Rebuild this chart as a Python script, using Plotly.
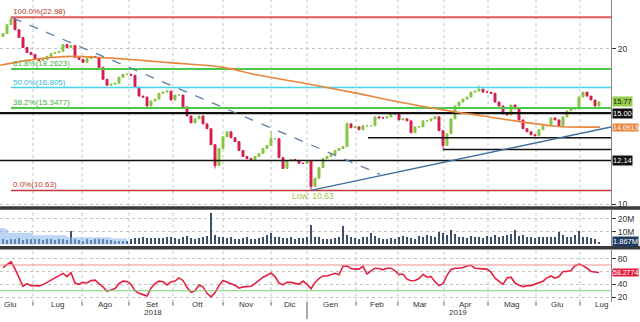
import math
import plotly.graph_objects as go

# ---------------- data ----------------
closes = [21.37,22.24,22.83,21.75,21.0,20.09,19.65,19.48,19.05,18.97,
          19.05,19.31,19.57,19.65,19.74,20.36,20.09,20.27,19.22,19.05,
          18.80,19.14,19.31,19.22,18.39,17.44,16.98,17.06,17.13,17.60,
          17.83,17.83,17.75,16.84,16.18,16.11,15.48,15.83,15.97,16.39,
          16.47,16.54,15.90,16.25,16.25,15.42,14.81,14.36,14.62,14.81,
          14.30,13.99,13.03,11.88,12.81,13.50,13.80,13.44,13.21,12.70,
          12.36,12.25,12.20,12.36,12.53,12.81,12.98,13.38,13.38,12.30,
          11.72,12.14,12.20,12.14,11.99,11.99,12.14,10.82,11.22,11.77,
          12.25,12.36,12.47,12.70,12.81,12.92,14.30,14.05,14.11,13.93,
          14.18,14.18,14.18,14.75,14.68,14.68,14.75,15.01,14.94,14.55,
          14.62,14.49,13.74,14.11,14.11,14.49,14.49,14.62,14.75,13.87,
          12.98,13.68,14.62,15.48,15.76,15.97,16.11,16.47,16.54,16.69,
          16.47,16.47,16.39,15.76,15.48,14.94,14.88,15.55,15.28,14.55,
          13.99,13.80,13.62,13.56,13.93,14.18,14.18,14.68,14.55,14.18,
          14.75,15.15,15.28,15.28,16.11,16.47,16.18,15.90,15.48,15.77]
first_open = 21.1
high_overrides = {2: 22.98, 67: 13.87, 119: 16.98, 86: 14.40}
low_overrides = {77: 10.63, 53: 11.72, 110: 12.75}

volumes = [4,3.5,4.5,4,5,3.5,4,4.5,3.8,4, 3.5,4.2,3.8,3.5,4,4.5,3.6,10.5,4,3.5,
           3,3.8,3.2,4,4.5,3.8,3.2,3.5,3,2.8, 2.5,3,
           4.5,5,4.8,5.5,5,4.6,5,5.2,4.8,5.5, 6,5,4.5,5.5,6.5,5,4.5,5,6,6.5,
           24,7.5,6,5.5,5,5.5,4.5,4,5,5.5, 4.5,4,5,5.5,7,9,6,5.5,5,5,
           5.5,4.5,5,5,5.5,15,6,5.5,
           4.5,4,4.5,5,5.5,14,7,6,5,4.5, 6,5.5,8.5,6.5,5,4.5,4,5,4.5,5.5,
           6.5,5.5,5,4.5,6.5,5.5,7,6.5,5.5,10, 9,7.5,11,8,6,5.5,5,6.5,5.5,6,
           5,6.5,5.5,7,6,6.5,7.5,8,11,6.5, 7,5.5,6,5,5.5,6,5.5,5.5,6,10,
           7.5,5.5,6,7.5,10.5,6,5.5,5,4.5,1.867]

vol_bg_idx = [-0.75, 0.5, 1.25, 7.5, 16, 27, 31]
vol_bg_val = [12.8, 11.5, 9.0, 7.2, 5.6, 4.5, 0]

rsi = [66,71,75,64,51,37,41,38,38,37.5, 39.5,43,47,50,54,57,52,58,42,40,
       43,42,46,46.5,41,36,29,31,33.5,41, 45,44.5,40,30,26,24,22,34,41,45,
       44,39,44,45,50,46,35,27.7,30,39, 36,26,20.5,27,38,46,43,41,38.5,34,
       36,36,37,41,46,51,54,57.5,52,42, 39,43,43,42,40,45,40,33,43,49,
       53,53,55.5,57,55,68,68.5,64.5,63.6,63.6, 68,56,61,65,64.6,62.5,65,65,61,55,
       56,48,45.5,46,49,55.5,51,52,44,38, 41,54,63,65,65,66,68.5,69.5,65,64,
       64,63.6,59,49.5,45,40,50,51,42,38.5, 36.5,38,38,40.5,43.5,44.8,50,53,49.5,52,
       60,60,61.5,69,71.3,69,65,60,59,58.2774]

ma_idx = [-0.75, 6, 12, 18, 24, 32, 38, 47, 55, 64, 74, 87, 99, 113, 120, 128, 137, 140, 149.25]
ma_val = [18.56,18.97,19.22,19.31,19.22,19.05,18.88,18.64,18.39,17.75,17.21,16.47,15.76,15.08,14.81,14.49,14.18,14.11,14.09]

fib_levels = [22.98, 18.2623, 16.805, 15.3477, 10.63]
fib_labels = ["100.0%(22.98)", "61.8%(18.2623)", "50.0%(16.805)", "38.2%(15.3477)", "0.0%(10.63)"]
fib_colors = ["#e05a5a", "#4cc84c", "#44d6e6", "#4cc84c", "#c43a3a"]
fib_text_colors = ["#b83a2a", "#3fae3f", "#2fc0d2", "#3fae3f", "#b83a2a"]
fib_widths = [2, 2, 1.5, 2, 1.5]
fib_start = 2

levels_black = [15.00, 12.14, 13.44, 12.75]
levels_black_start = [-0.75, -0.75, 91.25, 110]
levels_black_width = [2.2, 1.5, 1.5, 1.5]

down_trend_idx = [2.5, 94.25]
down_trend_val = [22.9, 11.42]
up_trend_idx = [77, 152]
up_trend_val = [10.63, 14.1]

month_labels = ["Giu", "Lug", "Ago", "Set", "Ott", "Nov", "Dic", "Gen", "Feb", "Mar", "Apr", "Mag", "Giu", "Lug"]
month_centers = [1.75, 13.5, 25.5, 37.25, 48.5, 60.75, 71.75, 81.75, 93.5, 104.25, 115.5, 127.25, 138.5, 149.5]
month_bounds = [7.5, 19.75, 31.5, 42.5, 55, 67, 76, 88.25, 98.75, 110.25, 121.25, 133.25, 144.25]
year_labels = ["2018", "2019"]
year_pos = [37.5, 113.75]
year_bound = 76

XMIN, XMAX = -0.75, 152
W, H = 640, 322
FONT = "Liberation Sans, Arial, sans-serif"

# ---------------- build ----------------
idx = list(range(len(closes)))
opens = [first_open] + closes[:-1]
highs = [max(o, c) for o, c in zip(opens, closes)]
lows = [min(o, c) for o, c in zip(opens, closes)]
for k, v in high_overrides.items():
    highs[k] = v
for k, v in low_overrides.items():
    lows[k] = v

fig = go.Figure()

for lv, col, wd in zip(fib_levels, fib_colors, fib_widths):
    fig.add_trace(go.Scatter(x=[fib_start, XMAX], y=[lv, lv], mode="lines",
                             line=dict(color=col, width=wd), yaxis="y", hoverinfo="skip"))
for lv, st, wd in zip(levels_black, levels_black_start, levels_black_width):
    fig.add_trace(go.Scatter(x=[st, XMAX], y=[lv, lv], mode="lines",
                             line=dict(color="#111111", width=wd), yaxis="y", hoverinfo="skip"))
fig.add_trace(go.Scatter(x=ma_idx, y=ma_val, mode="lines", line=dict(color="#e8853c", width=1.6, shape="spline"),
                         yaxis="y", hoverinfo="skip"))
fig.add_trace(go.Scatter(x=down_trend_idx, y=down_trend_val, mode="lines",
                         line=dict(color="#5b7fa6", width=1.3, dash="dash"), yaxis="y"))
fig.add_trace(go.Scatter(x=up_trend_idx, y=up_trend_val, mode="lines",
                         line=dict(color="#3f6f9f", width=1.5), yaxis="y"))
fig.add_trace(go.Candlestick(x=idx, open=opens, high=highs, low=lows, close=closes,
                             increasing=dict(line=dict(color="#86c540", width=1), fillcolor="#86c540"),
                             decreasing=dict(line=dict(color="#d41f4e", width=1), fillcolor="#d41f4e"),
                             whiskerwidth=0, yaxis="y"))

fig.add_trace(go.Scatter(x=vol_bg_idx, y=vol_bg_val, mode="lines", fill="tozeroy",
                         line=dict(width=0, shape="hv"), fillcolor="rgba(130,180,235,0.55)", yaxis="y2"))
fig.add_trace(go.Bar(x=idx, y=volumes, marker=dict(color="#3d5068", line=dict(width=0)), width=0.45, yaxis="y2"))

fig.add_trace(go.Scatter(x=idx, y=rsi, mode="lines", line=dict(color="#e3203f", width=1.6), yaxis="y3"))

def py(px):
    return 1 - px / H

shapes = []
for b in month_bounds:
    for yr in ["y domain", "y2 domain", "y3 domain"]:
        shapes.append(dict(type="line", xref="x", yref=yr, x0=b, x1=b, y0=0, y1=1,
                           line=dict(color="#c4c4c4", width=1, dash="dot"), layer="below"))
    shapes.append(dict(type="line", xref="x", yref="paper", x0=b, x1=b, y0=py(305),
                       y1=(0 if b == year_bound else py(308.5)), line=dict(color="#555", width=1)))
for yv, col in [(70, "#f09090"), (30, "#7ccf7c")]:
    shapes.append(dict(type="line", xref="x", yref="y3", x0=XMIN, x1=XMAX, y0=yv, y1=yv,
                       line=dict(color=col, width=1.2)))
for sep in [210, 250]:
    shapes.append(dict(type="line", xref="paper", yref="paper", x0=0, x1=1, y0=py(sep), y1=py(sep),
                       line=dict(color="#3a3a3a", width=3.5)))

ann = []
for lv, lab, col in zip(fib_levels, fib_labels, fib_text_colors):
    ann.append(dict(x=fib_start, y=math.log10(lv), xref="x", yref="y", text=lab, showarrow=False,
                    xanchor="left", yanchor="bottom", yshift=-1, font=dict(size=8, color=col, family=FONT)))
ann.append(dict(x=77.5, y=math.log10(10.36), xref="x", yref="y", text="Low: 10.63", showarrow=False,
                xanchor="center", yanchor="middle", font=dict(size=8.5, color="#a6c24c", family=FONT)))

tags = [("15.77", closes[-1], "y", "#95cc4a", "#1a1a1a"),
        ("15.00", 15.00, "y", "#111111", "#ffffff"),
        ("14.0913", 14.0913, "y", "#e8853c", "#ffffff"),
        ("12.14", 12.14, "y", "#111111", "#ffffff"),
        ("1.867M", 2.0, "y2", "#1f3b60", "#ffffff"),
        ("58.2774", 58.2774, "y3", "#e3203f", "#ffffff")]
for txt, val, yr, bg, fc in tags:
    yy = math.log10(val) if yr == "y" else val
    fs = 7 if len(txt) >= 7 else 7.5
    ann.append(dict(x=612 / W, y=yy, xref="paper", yref=yr, text=txt, showarrow=False, xanchor="left",
                    yanchor="middle", bgcolor=bg, borderpad=0, font=dict(size=fs, color=fc, family=FONT)))
for lab, pos in zip(month_labels, month_centers):
    ann.append(dict(x=pos, y=py(307.5), xref="x", yref="paper", text=lab, showarrow=False,
                    xanchor="center", yanchor="middle", font=dict(size=8, color="#333", family=FONT)))
for lab, pos in zip(year_labels, year_pos):
    ann.append(dict(x=pos, y=py(322), xref="x", yref="paper", text=lab, showarrow=False,
                    xanchor="center", yanchor="bottom", font=dict(size=8, color="#333", family=FONT)))

axis_common = dict(side="right", anchor="x", showline=True, linecolor="#888", linewidth=1,
                   ticks="outside", ticklen=4, tickcolor="#333", zeroline=False,
                   showgrid=True, gridcolor="#c4c4c4", griddash="dot",
                   tickfont=dict(size=8.5, color="#333", family=FONT))

fig.update_layout(
    width=W, height=H, margin=dict(l=0, r=0, t=0, b=0),
    paper_bgcolor="white", plot_bgcolor="white", showlegend=False,
    xaxis=dict(domain=[0, 611 / W], range=[XMIN, XMAX], anchor="y3", showticklabels=False,
               ticks="", showgrid=False, zeroline=False, rangeslider=dict(visible=False)),
    yaxis=dict(domain=[py(208), 1], type="log", range=[0.9962, 1.3949],
               tickvals=[10, 20], ticktext=["10", "20"], **axis_common),
    yaxis2=dict(domain=[py(248), py(212)], range=[-1, 26.7],
                tickvals=[10, 20], ticktext=["10M", "20M"], **axis_common),
    yaxis3=dict(domain=[py(305), py(252)], range=[12.3, 93.8],
                tickvals=[20, 40, 60, 80], ticktext=["20", "40", "", "80"], **axis_common),
    shapes=shapes, annotations=ann, bargap=0,
)

fig.write_html("out.html")
